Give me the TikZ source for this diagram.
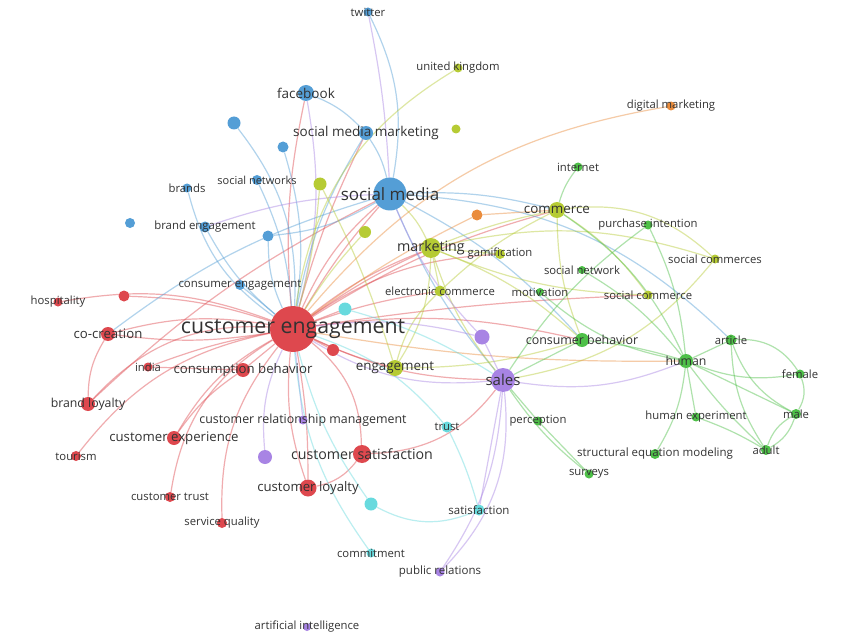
\documentclass[tikz,border=0pt]{standalone}
\usepackage{fontspec}
\setmainfont{Open Sans}
\usetikzlibrary{backgrounds}
\definecolor{cR}{RGB}{222,72,78}
\definecolor{cB}{RGB}{84,158,214}
\definecolor{cG}{RGB}{78,192,72}
\definecolor{cY}{RGB}{182,203,52}
\definecolor{cP}{RGB}{168,132,228}
\definecolor{cC}{RGB}{104,218,222}
\definecolor{cO}{RGB}{234,140,60}
\definecolor{txt}{RGB}{50,50,50}
\newcommand\kwnode[7]{%
  \node[circle,fill=#4,inner sep=0pt,minimum size=#5pt] (#1) at (#2,#3) {};
  \node[text=txt,inner sep=0pt,font=\fontsize{#6}{#6}\selectfont] (#1-l) at (#1) {#7};}
\newcommand\kwdot[5]{%
  \node[circle,fill=#4,inner sep=0pt,minimum size=#5pt] (#1) at (#2,#3) {};}
\tikzset{ln/.style={draw=#1,line width=1.2pt,draw opacity=.45}}
\begin{document}
\begin{tikzpicture}[x=1pt,y=-1pt]
\useasboundingbox (0,0) rectangle (843,639);
% ---- red cluster
\kwnode{ce}{293}{329}{cR}{46}{21.3}{customer engagement}
\kwnode{hosp}{58}{302}{cR}{9}{11.3}{hospitality}
\kwdot{ra}{124}{296}{cR}{11}
\kwnode{cocr}{108}{334}{cR}{14}{13.2}{co-creation}
\kwnode{india}{148}{367}{cR}{9}{11.3}{india}
\kwnode{cbeh}{243}{370}{cR}{14}{13.2}{consumption behavior}
\kwdot{rb}{333}{350}{cR}{12}
\kwnode{bloy}{88}{404}{cR}{14}{12.3}{brand loyalty}
\kwnode{tour}{76}{456}{cR}{10}{11.3}{tourism}
\kwnode{cexp}{174}{438}{cR}{14}{13.2}{customer experience}
\kwnode{ctr}{170}{497}{cR}{10}{11.3}{customer trust}
\kwnode{squ}{222}{523}{cR}{10}{11.3}{service quality}
\kwnode{cloy}{308}{488}{cR}{17}{13.2}{customer loyalty}
\kwnode{csat}{362}{454}{cR}{18}{14.2}{customer satisfaction}
% ---- blue cluster
\kwnode{twit}{368}{12}{cB}{9}{11.3}{twitter}
\kwnode{fb}{306}{93}{cB}{16}{13.5}{facebook}
\kwnode{smm}{366}{133}{cB}{14}{13.5}{social media marketing}
\kwdot{ba}{234}{123}{cB}{13}
\kwdot{bb}{283}{147}{cB}{11}
\kwnode{snw}{257}{180}{cB}{10}{11}{social networks}
\kwnode{brands}{187}{188}{cB}{9}{11.3}{brands}
\kwnode{sm}{390}{194}{cB}{33}{17}{social media}
\kwdot{bc}{130}{223}{cB}{10}
\kwnode{be}{205}{227}{cB}{11}{11.4}{brand engagement}
\kwdot{bd}{268}{236}{cB}{11}
\kwnode{ceng}{240}{285}{cB}{10}{11.4}{consumer engagement}
% ---- yellow cluster
\kwnode{uk}{458}{68}{cY}{9}{11.3}{united kingdom}
\kwdot{ya}{456}{129}{cY}{9}
\kwdot{yb}{320}{184}{cY}{13}
\kwdot{yc}{365}{232}{cY}{12}
\kwnode{mkt}{431}{248}{cY}{20}{14.3}{marketing}
\kwnode{gam}{500}{254}{cY}{10}{11.3}{gamification}
\kwnode{comm}{557}{210}{cY}{16}{13.4}{commerce}
\kwnode{socs}{715}{259}{cY}{9}{11.3}{social commerces}
\kwnode{soc}{648}{295}{cY}{9}{11.3}{social commerce}
\kwnode{ecom}{440}{291}{cY}{11}{11.3}{electronic commerce}
\kwnode{eng}{395}{368}{cY}{16}{13.4}{engagement}
% ---- orange
\kwnode{dm}{671}{106}{cO}{9}{11.3}{digital marketing}
\kwdot{oa}{477}{215}{cO}{11}
% ---- green cluster
\kwnode{inet}{578}{167}{cG}{9}{11.3}{internet}
\kwnode{pi}{648}{225}{cG}{9}{11.3}{purchase intention}
\kwnode{snt}{582}{270}{cG}{8}{11.3}{social network}
\kwnode{mot}{540}{292}{cG}{8}{11.3}{motivation}
\kwnode{cbh}{582}{340}{cG}{14}{12.4}{consumer behavior}
\kwnode{human}{686}{361}{cG}{14}{12.3}{human}
\kwnode{art}{731}{340}{cG}{11}{11.3}{article}
\kwnode{fem}{800}{374}{cG}{9}{11.3}{female}
\kwnode{male}{796}{414}{cG}{10}{11.3}{male}
\kwnode{adult}{766}{450}{cG}{10}{11.3}{adult}
\kwnode{hexp}{696}{417}{cG}{9}{11.3}{human experiment}
\kwnode{sem}{655}{454}{cG}{10}{11.5}{structural equation modeling}
\kwnode{surv}{589}{474}{cG}{9}{11.3}{surveys}
\kwnode{perc}{538}{421}{cG}{9}{11.3}{perception}
% ---- purple cluster
\kwdot{pa}{482}{337}{cP}{15}
\kwnode{sales}{503}{380}{cP}{24}{15}{sales}
\kwdot{pb}{265}{457}{cP}{14}
\kwnode{crm}{303}{420}{cP}{9}{12.4}{customer relationship management}
\kwnode{pr}{440}{572}{cP}{9}{11.5}{public relations}
\kwnode{ai}{307}{627}{cP}{8}{11.3}{artificial intelligence}
% ---- cyan cluster
\kwdot{ca}{345}{309}{cC}{13}
\kwnode{trust}{447}{427}{cC}{11}{11.3}{trust}
\kwnode{sat}{479}{510}{cC}{11}{11.5}{satisfaction}
\kwdot{cb}{371}{504}{cC}{13}
\kwnode{cmt}{371}{553}{cC}{9}{11.3}{commitment}

\begin{pgfonlayer}{background}
\fill[white] (0,0) rectangle (843,639);
% red edges
\draw[ln=cR] (ce) to[bend right=15] (hosp);
\draw[ln=cR] (ce) to[bend right=8] (ra);
\draw[ln=cR] (ce) to[bend right=12] (cocr);
\draw[ln=cR] (ce) to[bend left=8] (cocr);
\draw[ln=cR] (ce) to[bend right=5] (india);
\draw[ln=cR] (india) to (cbeh);
\draw[ln=cR] (ce) to[bend right=25] (bloy);
\draw[ln=cR] (bloy) to[bend left=8] (sm);
\draw[ln=cR] (cocr) to[bend right=15] (bloy);
\draw[ln=cR] (ce) to[bend right=20] (tour);
\draw[ln=cR] (ce) to (cbeh);
\draw[ln=cR] (ce) to[bend right=15] (cexp);
\draw[ln=cR] (cbeh) to[bend right=10] (cexp);
\draw[ln=cR] (ce) to[bend right=25] (ctr);
\draw[ln=cR] (ce) to[bend right=20] (squ);
\draw[ln=cR] (ce) to[bend right=12] (cloy);
\draw[ln=cR] (ce) to[bend left=5] (cloy);
\draw[ln=cR] (ce) to[bend left=25] (csat);
\draw[ln=cR] (csat) to[bend left=20] (cloy);
\draw[ln=cR] (csat) to[bend right=25] (sales);
\draw[ln=cR] (ce) to (rb);
\draw[ln=cR] (ce) to[bend right=5] (eng);
\draw[ln=cR] (ce) to[bend right=12] (sales);
\draw[ln=cR] (ce) to[bend left=8] (mkt);
\draw[ln=cR] (ce) to[bend left=5] (mkt);
\draw[ln=cR] (ce) to[bend left=8] (comm);
\draw[ln=cR] (ce) to[bend left=5] (sm);
\draw[ln=cR] (ce) to[bend left=12] (sm);
\draw[ln=cR] (ce) to[bend left=8] (fb);
\draw[ln=cR] (ce) to[bend left=5] (smm);
\draw[ln=cR] (ce) to[bend left=10] (cbh);
\draw[ln=cR] (ce) to[bend left=5] (ecom);
\draw[ln=cR] (ce) to[bend left=15] (gam);
\draw[ln=cR] (ce) to[bend left=3] (soc);
\draw[ln=cR] (ce) to (ca);
% blue edges
\draw[ln=cB] (twit) to[bend left=18] (sm);
\draw[ln=cP] (twit) to[bend left=4] (sm);
\draw[ln=cB] (fb) to[bend left=12] (smm);
\draw[ln=cP] (fb) to[bend left=12] (ce);
\draw[ln=cB] (smm) to[bend left=10] (sm);
\draw[ln=cB] (smm) to[bend right=10] (ce);
\draw[ln=cB] (ba) to[bend left=20] (ce);
\draw[ln=cB] (bb) to[bend left=12] (ce);
\draw[ln=cB] (snw) to[bend left=10] (ce);
\draw[ln=cB] (brands) to[bend right=20] (ce);
\draw[ln=cB] (be) to[bend right=10] (ce);
\draw[ln=cP] (be) to[bend left=8] (sm);
\draw[ln=cB] (bd) to[bend right=12] (sm);
\draw[ln=cB] (bd) to[bend right=12] (ce);
\draw[ln=cB] (ceng) to (ce);
\draw[ln=cB] (sm) to[bend right=8] (sales);
\draw[ln=cB] (sm) to[bend left=20] (art);
\draw[ln=cB] (sm) to[bend left=10] (cbh);
\draw[ln=cB] (sm) to[bend left=8] (comm);
\draw[ln=cB] (cocr) to[bend left=10] (sm);
% yellow edges
\draw[ln=cY] (uk) to[bend right=25] (ce);
\draw[ln=cY] (yb) to[bend left=5] (ce);
\draw[ln=cY] (yc) to[bend right=5] (ce);
\draw[ln=cY] (yb) to[bend left=5] (eng);
\draw[ln=cY] (mkt) to[bend left=5] (comm);
\draw[ln=cY] (mkt) to[bend left=15] (socs);
\draw[ln=cY] (mkt) to[bend right=10] (soc);
\draw[ln=cY] (mkt) to (ecom);
\draw[ln=cY] (mkt) to[bend right=10] (sales);
\draw[ln=cY] (mkt) to[bend left=15] (eng);
\draw[ln=cY] (mkt) to[bend left=10] (cbh);
\draw[ln=cY] (mkt) to[bend right=10] (sm);
\draw[ln=cY] (gam) to (mkt);
\draw[ln=cY] (comm) to[bend left=25] (socs);
\draw[ln=cY] (comm) to[bend right=10] (cbh);
\draw[ln=cY] (comm) to[bend right=8] (ecom);
\draw[ln=cY] (comm) to[bend left=10] (soc);
\draw[ln=cY] (socs) to[bend left=20] (sales);
\draw[ln=cY] (eng) to[bend right=8] (cbh);
\draw[ln=cY] (ecom) to[bend right=15] (eng);
% orange
\draw[ln=cO] (dm) to[bend right=20] (ce);
\draw[ln=cO] (oa) to[bend right=5] (ce);
\draw[ln=cO] (oa) to (comm);
\draw[ln=cO] (ce) to[bend right=5] (human);
% green
\draw[ln=cG] (inet) to[bend right=10] (comm);
\draw[ln=cG] (human) to (art);
\draw[ln=cG] (human) to[bend right=15] (fem);
\draw[ln=cG] (human) to (male);
\draw[ln=cG] (human) to[bend right=5] (adult);
\draw[ln=cG] (human) to (hexp);
\draw[ln=cG] (human) to[bend left=12] (sem);
\draw[ln=cG] (human) to[bend right=5] (cbh);
\draw[ln=cG] (human) to[bend right=15] (comm);
\draw[ln=cG] (human) to[bend right=10] (pi);
\draw[ln=cG] (human) to[bend right=10] (snt);
\draw[ln=cG] (art) to[bend left=30] (fem);
\draw[ln=cG] (art) to[bend right=20] (male);
\draw[ln=cG] (art) to[bend right=15] (adult);
\draw[ln=cG] (fem) to[bend left=25] (male);
\draw[ln=cG] (male) to[bend left=20] (adult);
\draw[ln=cG] (male) to[bend right=20] (adult);
\draw[ln=cG] (hexp) to[bend left=5] (adult);
\draw[ln=cG] (perc) to (surv);
\draw[ln=cG] (sales) to[bend right=8] (surv);
\draw[ln=cG] (sales) to (perc);
\draw[ln=cG] (cbh) to (sales);
\draw[ln=cG] (mot) to[bend right=15] (human);
\draw[ln=cG] (pi) to[bend right=10] (sales);
% purple
\draw[ln=cP] (human) to[bend left=15] (sales);
\draw[ln=cP] (ce) to[bend left=10] (pa);
\draw[ln=cP] (pa) to (sales);
\draw[ln=cP] (pa) to[bend left=10] (sm);
\draw[ln=cP] (sales) to[bend left=15] (pr);
\draw[ln=cP] (sales) to[bend left=25] (pr);
\draw[ln=cP] (sales) to (sat);
\draw[ln=cP] (pb) to[bend left=15] (ce);
\draw[ln=cP] (crm) to (ce);
\draw[ln=cP] (ce) to[bend right=18] (sales);
% cyan
\draw[ln=cC] (ca) to[bend left=8] (sales);
\draw[ln=cC] (trust) to[bend left=5] (sat);
\draw[ln=cC] (trust) to[bend right=15] (ce);
\draw[ln=cC] (cmt) to[bend left=15] (ce);
\draw[ln=cC] (cb) to[bend right=25] (sat);
\draw[ln=cC] (cb) to[bend left=10] (ce);
\end{pgfonlayer}
\end{tikzpicture}
\end{document}
